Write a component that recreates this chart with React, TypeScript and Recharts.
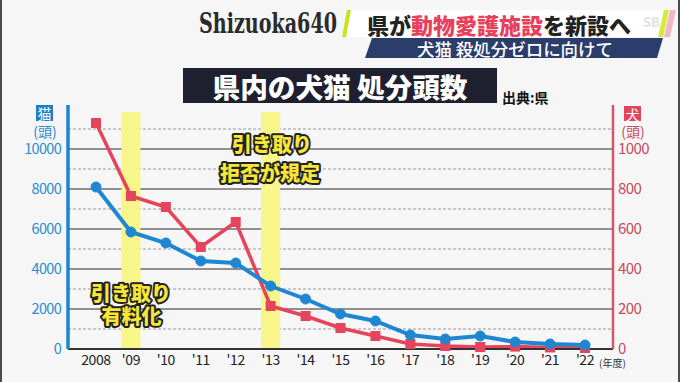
import React from 'react';
import { LineChart, Line, XAxis, YAxis, ReferenceLine } from 'recharts';

const years = ['2008', "'09", "'10", "'11", "'12", "'13", "'14", "'15", "'16", "'17", "'18", "'19", "'20", "'21", "'22"];
const catCounts = [8100, 5850, 5300, 4400, 4300, 3150, 2500, 1750, 1400, 700, 500, 650, 350, 250, 200];
const dogCounts = [1130, 765, 710, 510, 635, 215, 165, 105, 65, 25, 15, 10, 12, 8, 5];

const catTicks = [0, 2000, 4000, 6000, 8000, 10000];
const dogTicks = [0, 200, 400, 600, 800, 1000];
const solidGrid = [2000, 4000, 6000, 8000, 10000];
const dashedGrid = [1000, 3000, 5000, 7000, 9000, 11000];
const highlightYears = ["'09", "'13"];
const highlightTop = 11850;

const rows = years.map((y, i) => ({ year: y, cat: catCounts[i], dog: dogCounts[i] }));

const JP = "'Noto Sans CJK JP', 'Noto Sans', sans-serif";
const BLUE = '#1f87d2';
const RED = '#e6435c';
const BLUE_TXT = '#2a8bcf';
const RED_TXT = '#c44a5c';

const RedSquare = (props: any) => {
  const { cx, cy, index } = props;
  if (cx == null || cy == null) return <g key={`e${index}`} />;
  return <rect key={`s${index}`} x={cx - 5} y={cy - 5} width={10} height={10} fill={RED} />;
};

const annoStyle: any = {
  fontFamily: JP,
  fontWeight: 900,
  fontSize: 20,
  fill: '#f6e63a',
  stroke: '#222',
  strokeWidth: 4,
  paintOrder: 'stroke',
  strokeLinejoin: 'round',
};

export default function App() {
  return (
    <div style={{ position: 'absolute', left: 0, top: 0, width: 680, height: 382, background: '#f6f6f6', overflow: 'hidden' }}>
      <div style={{ position: 'absolute', left: 0, top: 0 }}>
        <LineChart width={680} height={382} data={rows} margin={{ top: 105, right: 0, bottom: 3, left: 0 }}>
          <XAxis
            dataKey="year"
            interval={0}
            padding={{ left: 28, right: 28 }}
            height={30}
            tickLine={false}
            tickSize={0}
            tickMargin={6}
            axisLine={{ stroke: '#333', strokeWidth: 2 }}
            tick={{ fill: '#222', fontSize: 14, fontFamily: JP, letterSpacing: -0.4 }}
          />
          <YAxis
            yAxisId="cat"
            orientation="left"
            width={68}
            domain={[0, 12200]}
            ticks={catTicks}
            interval={0}
            tickLine={false}
            tickSize={0}
            tickMargin={7}
            axisLine={{ stroke: '#1b86cc', strokeWidth: 3.5 }}
            tick={{ fill: BLUE_TXT, fontSize: 14.5, fontFamily: JP, letterSpacing: -0.7 }}
          />
          <YAxis
            yAxisId="dog"
            orientation="right"
            width={67}
            domain={[0, 1220]}
            ticks={dogTicks}
            interval={0}
            tickLine={false}
            tickSize={0}
            tickMargin={5}
            axisLine={{ stroke: '#d4566a', strokeWidth: 2.5 }}
            tick={{ fill: RED_TXT, fontSize: 15, fontFamily: JP, letterSpacing: -0.6, textAnchor: 'start' }}
          />
          {solidGrid.map((v) => (
            <ReferenceLine key={`g${v}`} yAxisId="cat" y={v} stroke="#6e6e6e" strokeWidth={1.5} />
          ))}
          {dashedGrid.map((v) => (
            <ReferenceLine key={`d${v}`} yAxisId="cat" y={v} stroke="#9a9a9a" strokeWidth={1.2} strokeDasharray="3 2" />
          ))}
          {highlightYears.map((yr) => (
            <ReferenceLine
              key={`h${yr}`}
              yAxisId="cat"
              segment={[{ x: yr, y: 0 }, { x: yr, y: highlightTop }]}
              stroke="#f8f58a"
              strokeWidth={19}
            />
          ))}
          <Line
            yAxisId="dog"
            dataKey="dog"
            stroke={RED}
            strokeWidth={3.5}
            dot={RedSquare}
            activeDot={false}
            isAnimationActive={false}
          />
          <Line
            yAxisId="cat"
            dataKey="cat"
            stroke={BLUE}
            strokeWidth={4}
            dot={{ r: 5, fill: BLUE, stroke: BLUE, strokeWidth: 1 }}
            activeDot={false}
            isAnimationActive={false}
          />
        </LineChart>
      </div>
      <svg width={680} height={382} style={{ position: 'absolute', left: 0, top: 0, pointerEvents: 'none' }}>
        {/* header */}
        <text x={199} y={33} fontFamily="'DejaVu Serif', serif" fontWeight={700} fontSize={27} textLength={138} lengthAdjust="spacingAndGlyphs" fill="#2b2b2b">
          Shizuoka640
        </text>
        <polygon points="350,10 668,10 662,37 344,37" fill="#ffffff" />
        <polygon points="347,10 351,10 346,37 342,37" fill="#c5e41f" />
        <polygon points="664,10 669,10 663,37 658,37" fill="#d6ea3a" />
        <polygon points="670,10 676,10 670,37 664,37" fill="#f0b8c4" />
        <text x={643} y={27} fontFamily={JP} fontWeight={700} fontSize={13} fill="#e2e2e2">SB</text>
        <text x={367} y={24} fontFamily={JP} fontWeight={900} fontSize={22} dominantBaseline="central">
          <tspan fill="#222">県が</tspan>
          <tspan fill="#e8405a">動物愛護施設</tspan>
          <tspan fill="#222">を新設へ</tspan>
        </text>
        <polygon points="372,38 663,38 657,58 365,58" fill="#2a3d6b" />
        <text x={417} y={48} fontFamily={JP} fontWeight={500} fontSize={17} textLength={196} lengthAdjust="spacingAndGlyphs" fill="#ffffff" dominantBaseline="central">
          犬猫 殺処分ゼロに向けて
        </text>
        {/* title */}
        <rect x={183} y={68} width={314} height={35} fill="#1e2030" />
        <text x={340} y={86} textAnchor="middle" fontFamily={JP} fontWeight={900} fontSize={27} textLength={255} lengthAdjust="spacingAndGlyphs" fill="#ffffff" dominantBaseline="central">
          県内の犬猫 処分頭数
        </text>
        <text x={502} y={97} fontFamily={JP} fontWeight={700} fontSize={14} fill="#111" dominantBaseline="central">
          出典:県
        </text>
        {/* axis unit labels */}
        <rect x={36} y={105} width={17} height={16} fill="#1f7ec5" />
        <text x={44.5} y={113} textAnchor="middle" fontFamily={JP} fontSize={14} fill="#fff" dominantBaseline="central">猫</text>
        <text x={45} y={131} textAnchor="middle" fontFamily={JP} fontSize={14} fill={BLUE_TXT} dominantBaseline="central">(頭)</text>
        <rect x={624} y={106} width={17} height={15} fill="#e0455c" />
        <text x={632.5} y={113.5} textAnchor="middle" fontFamily={JP} fontSize={14} fill="#fff" dominantBaseline="central">犬</text>
        <text x={633} y={131} textAnchor="middle" fontFamily={JP} fontSize={14} fill={RED_TXT} dominantBaseline="central">(頭)</text>
        <text x={599} y={362} fontFamily={JP} fontSize={10} fill="#333" dominantBaseline="central">(年度)</text>
        {/* annotations */}
        <text x={131} y={292} textAnchor="middle" dominantBaseline="central" style={annoStyle}>引き取り</text>
        <text x={131.5} y={315} textAnchor="middle" dominantBaseline="central" style={annoStyle}>有料化</text>
        <text x={272} y={143} textAnchor="middle" dominantBaseline="central" style={annoStyle}>引き取り</text>
        <text x={270} y={172} textAnchor="middle" dominantBaseline="central" style={annoStyle}>拒否が規定</text>
        {/* frame */}
        <rect x={0} y={0} width={2} height={382} fill="#4a4a4a" />
        <rect x={678} y={0} width={2} height={382} fill="#4a4a4a" />
      </svg>
    </div>
  );
}
